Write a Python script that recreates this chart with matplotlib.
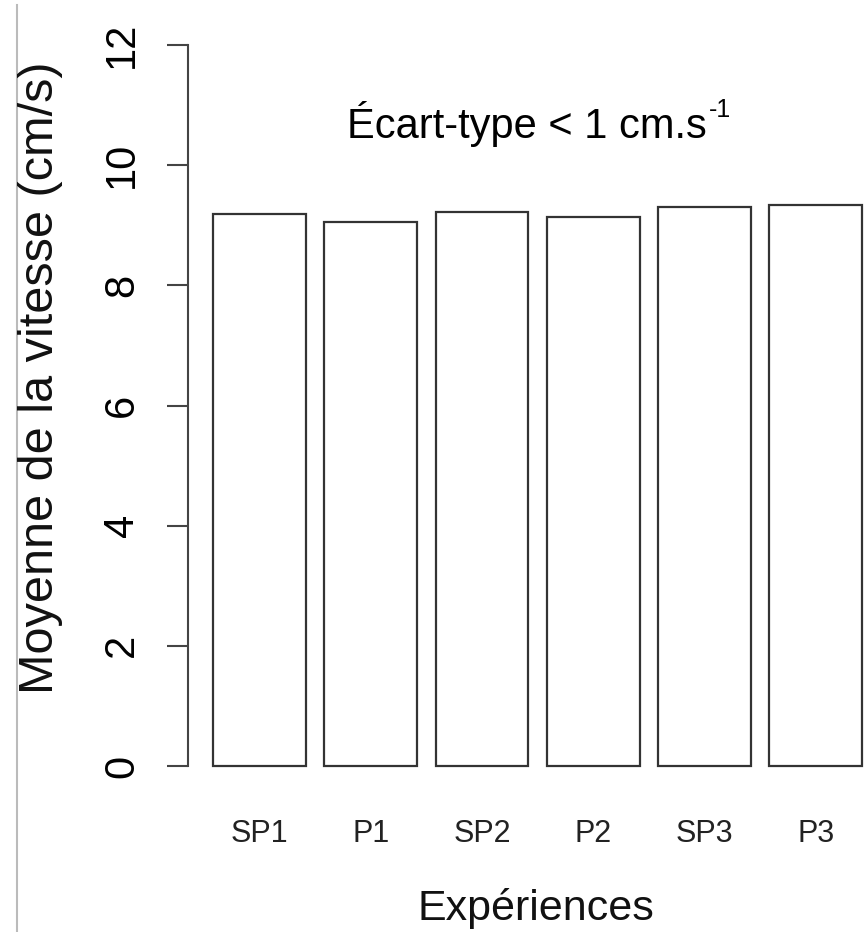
import matplotlib
matplotlib.use('Agg')
import matplotlib.pyplot as plt
from matplotlib.lines import Line2D

# donnees
experiences = ['SP1', 'P1', 'SP2', 'P2', 'SP3', 'P3']
vitesse_moy = [9.19, 9.05, 9.22, 9.14, 9.30, 9.34]
y_ticks = [0, 2, 4, 6, 8, 10, 12]

plt.rcParams['font.family'] = ['Liberation Sans', 'DejaVu Sans']

W, H = 864, 932
fig = plt.figure(figsize=(W / 100, H / 100), dpi=100)

# axes placees en pixels (repere image)
left, right, top, bottom = 188, 864, 45, 766
ax = fig.add_axes([left / W, 1 - bottom / H, (right - left) / W, (bottom - top) / H])

# positions facon barplot R : largeur 1, espace 0.2
centres = [0.7 + 1.2 * i for i in range(len(experiences))]
ax.bar(centres, vitesse_moy, width=1.0, color='white', edgecolor='#333333',
       linewidth=1.6, clip_on=False)

ax.set_xlim(-0.07, 7.22)
ax.set_ylim(0, 12)

for s in ['top', 'right', 'bottom']:
    ax.spines[s].set_visible(False)
ax.spines['left'].set_color('#444444')
ax.spines['left'].set_linewidth(1.5)

ax.set_yticks(y_ticks)
ax.set_yticklabels([str(v) for v in y_ticks], rotation=90, va='center', fontsize=30)
ax.tick_params(axis='y', length=15, width=1.5, color='#444444', pad=18)

ax.set_xticks(centres)
ax.set_xticklabels(experiences, fontsize=22, color='#222222')
ax.tick_params(axis='x', length=0, pad=38)

fig.text(41 / W, 1 - 378 / H, 'Moyenne de la vitesse (cm/s)', rotation=90,
         ha='center', va='center', fontsize=35, color='#111111')
fig.text(536 / W, 1 - 920 / H, 'Expériences', ha='center', va='baseline',
         fontsize=31, color='#111111')

# annotation avec exposant
t = fig.text(347 / W, 1 - 138 / H, 'Écart-type < 1 cm.s', ha='left',
             va='baseline', fontsize=30, color='black')
fig.canvas.draw()
bb = t.get_window_extent(fig.canvas.get_renderer())
fig.text((bb.x1 + 2) / W, 1 - 117 / H, '-1', ha='left', va='baseline',
         fontsize=18, color='black')

# fine bordure grise a gauche de l'image
fig.add_artist(Line2D([17 / W, 17 / W], [0, 1 - 5 / H], transform=fig.transFigure,
                      color='#bbbbbb', linewidth=1.5))

fig.savefig('out.png', dpi=100, facecolor='white')
plt.close(fig)
